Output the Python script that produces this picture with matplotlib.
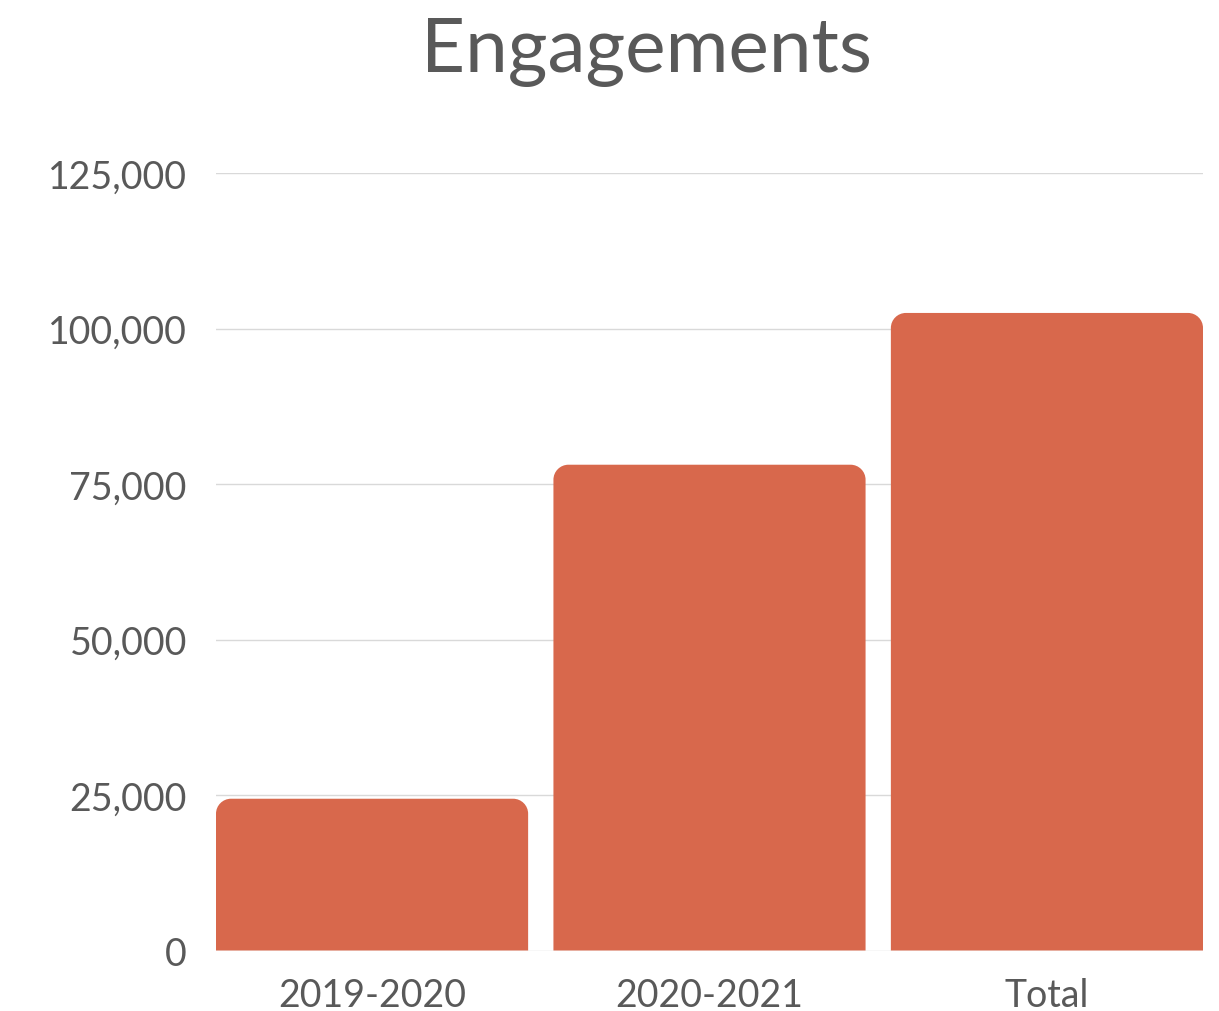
import numpy as np
import matplotlib.pyplot as plt
from matplotlib.path import Path
from matplotlib.patches import PathPatch
from matplotlib.ticker import FuncFormatter

categories = ['2019-2020', '2020-2021', 'Total']
engagements = [24400, 78100, 102500]
yticks = [0, 25000, 50000, 75000, 100000, 125000]

plt.rcParams['font.family'] = ['Lato', 'DejaVu Sans']
grey = '#595959'
bar_color = '#D8684C'

fig = plt.figure(figsize=(12.19, 10.12), dpi=100)
ax = fig.add_axes([216 / 1219, 60.5 / 1012, (1203 - 216) / 1219, (951.5 - 174) / 1012])

x = np.arange(len(categories))
w = 0.925
bars = ax.bar(x, engagements, width=w, color=bar_color, zorder=3)
ax.set_xlim(-w / 2, len(categories) - 1 + w / 2)
ax.set_ylim(0, 125000)

# swap plain rectangles for ones with rounded top corners (radius in pixels)
fig.canvas.draw()
r_px = 15
inv = ax.transData.inverted()
p0 = inv.transform((0, 0))
p1 = inv.transform((r_px, r_px))
rx, ry = p1 - p0
k = 0.5523
for b in bars:
    x0, y0 = b.get_x(), b.get_y()
    x1, y1 = x0 + b.get_width(), y0 + b.get_height()
    verts = [(x0, y0), (x0, y1 - ry),
             (x0, y1 - ry + k * ry), (x0 + rx - k * rx, y1), (x0 + rx, y1),
             (x1 - rx, y1),
             (x1 - rx + k * rx, y1), (x1, y1 - ry + k * ry), (x1, y1 - ry),
             (x1, y0), (x0, y0)]
    codes = [Path.MOVETO, Path.LINETO,
             Path.CURVE4, Path.CURVE4, Path.CURVE4,
             Path.LINETO,
             Path.CURVE4, Path.CURVE4, Path.CURVE4,
             Path.LINETO, Path.CLOSEPOLY]
    b.set_visible(False)
    ax.add_patch(PathPatch(Path(verts, codes), facecolor=bar_color, edgecolor='none', zorder=3))

ax.set_yticks(yticks)
ax.yaxis.set_major_formatter(FuncFormatter(lambda v, p: f'{int(v):,}'))
ax.set_xticks(x)
ax.set_xticklabels(categories)
ax.tick_params(axis='both', length=0, labelsize=27, labelcolor=grey)
ax.tick_params(axis='y', pad=21)
ax.tick_params(axis='x', pad=19)
ax.grid(axis='y', color='#d9d9d9', linewidth=1, zorder=0)
ax.set_axisbelow(True)
for s in ax.spines.values():
    s.set_visible(False)

fig.text(646 / 1219, 0.982, 'Engagements', fontsize=55, color=grey, ha='center', va='top')

fig.savefig('out.png', dpi=100)
